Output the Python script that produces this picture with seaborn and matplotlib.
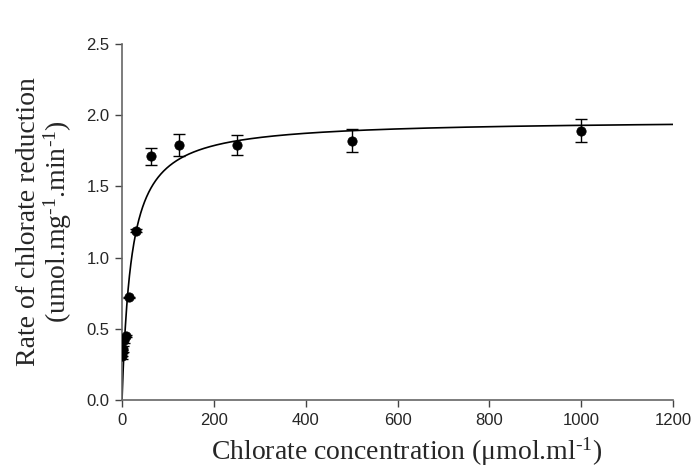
import numpy as np
import pandas as pd
import matplotlib
matplotlib.use("Agg")
import matplotlib.pyplot as plt
import seaborn as sns

# Data
concentration = [0.49, 0.98, 1.95, 3.9, 7.8, 15.6, 31.25, 62.5, 125, 250, 500, 1000]
rate = [0.31, 0.33, 0.36, 0.42, 0.45, 0.72, 1.19, 1.71, 1.79, 1.79, 1.82, 1.89]
rate_err = [0.02, 0.02, 0.02, 0.02, 0.01, 0.006, 0.01, 0.06, 0.075, 0.07, 0.08, 0.08]
# Michaelis-Menten fit parameters
vmax = 1.968
km = 20.3
x_ticks = [0, 200, 400, 600, 800, 1000, 1200]
y_ticks = [0.0, 0.5, 1.0, 1.5, 2.0, 2.5]

sns.set_style("ticks")
plt.rcParams["mathtext.fontset"] = "custom"
plt.rcParams["mathtext.rm"] = "Liberation Serif"
plt.rcParams["mathtext.it"] = "Liberation Serif:italic"
plt.rcParams["mathtext.bf"] = "Liberation Serif:bold"

df = pd.DataFrame({"conc": concentration, "rate": rate, "err": rate_err})
xfit = np.linspace(0, 1200, 2000)
fit = pd.DataFrame({"conc": xfit, "rate": vmax * xfit / (km + xfit)})

fig = plt.figure(figsize=(6.91, 4.72), dpi=100)
ax = fig.add_axes([0.1766, 0.1525, 0.7974, 0.7543])

sns.lineplot(data=fit, x="conc", y="rate", ax=ax, color="black", linewidth=1.2)
ax.errorbar(df["conc"], df["rate"], yerr=df["err"], fmt="none", ecolor="black",
            elinewidth=1.0, capsize=4.5, capthick=1.0, zorder=3)
sns.scatterplot(data=df, x="conc", y="rate", ax=ax, color="black", s=45,
                edgecolor="black", zorder=4)

ax.set_xlim(0, 1200)
ax.set_ylim(0, 2.5)
ax.set_xticks(x_ticks)
ax.set_yticks(y_ticks)
ax.set_xticklabels([str(v) for v in x_ticks], fontfamily="Liberation Sans", fontsize=12)
ax.set_yticklabels([f"{v:.1f}" for v in y_ticks], fontfamily="Liberation Sans", fontsize=12)
for s in ["top", "right"]:
    ax.spines[s].set_visible(False)
for s in ["left", "bottom"]:
    ax.spines[s].set_color("#666666")
    ax.spines[s].set_linewidth(1.2)
ax.tick_params(direction="out", length=5, color="#444444", width=1, pad=4)

ax.set_xlabel(r"Chlorate concentration ($\mathrm{\mu}$mol.ml$^{\text{-1}}$)",
              fontfamily="Liberation Serif", fontsize=20, labelpad=8)
ax.xaxis.set_label_coords(0.517, -0.1)
ax.xaxis.label.set_verticalalignment("top")
ax.set_ylabel("Rate of chlorate reduction\n(umol.mg$^{\\text{-1}}$.min$^{\\text{-1}}$)",
              fontfamily="Liberation Serif", fontsize=20, labelpad=9, linespacing=1.0)

fig.savefig("out.png", dpi=100)
